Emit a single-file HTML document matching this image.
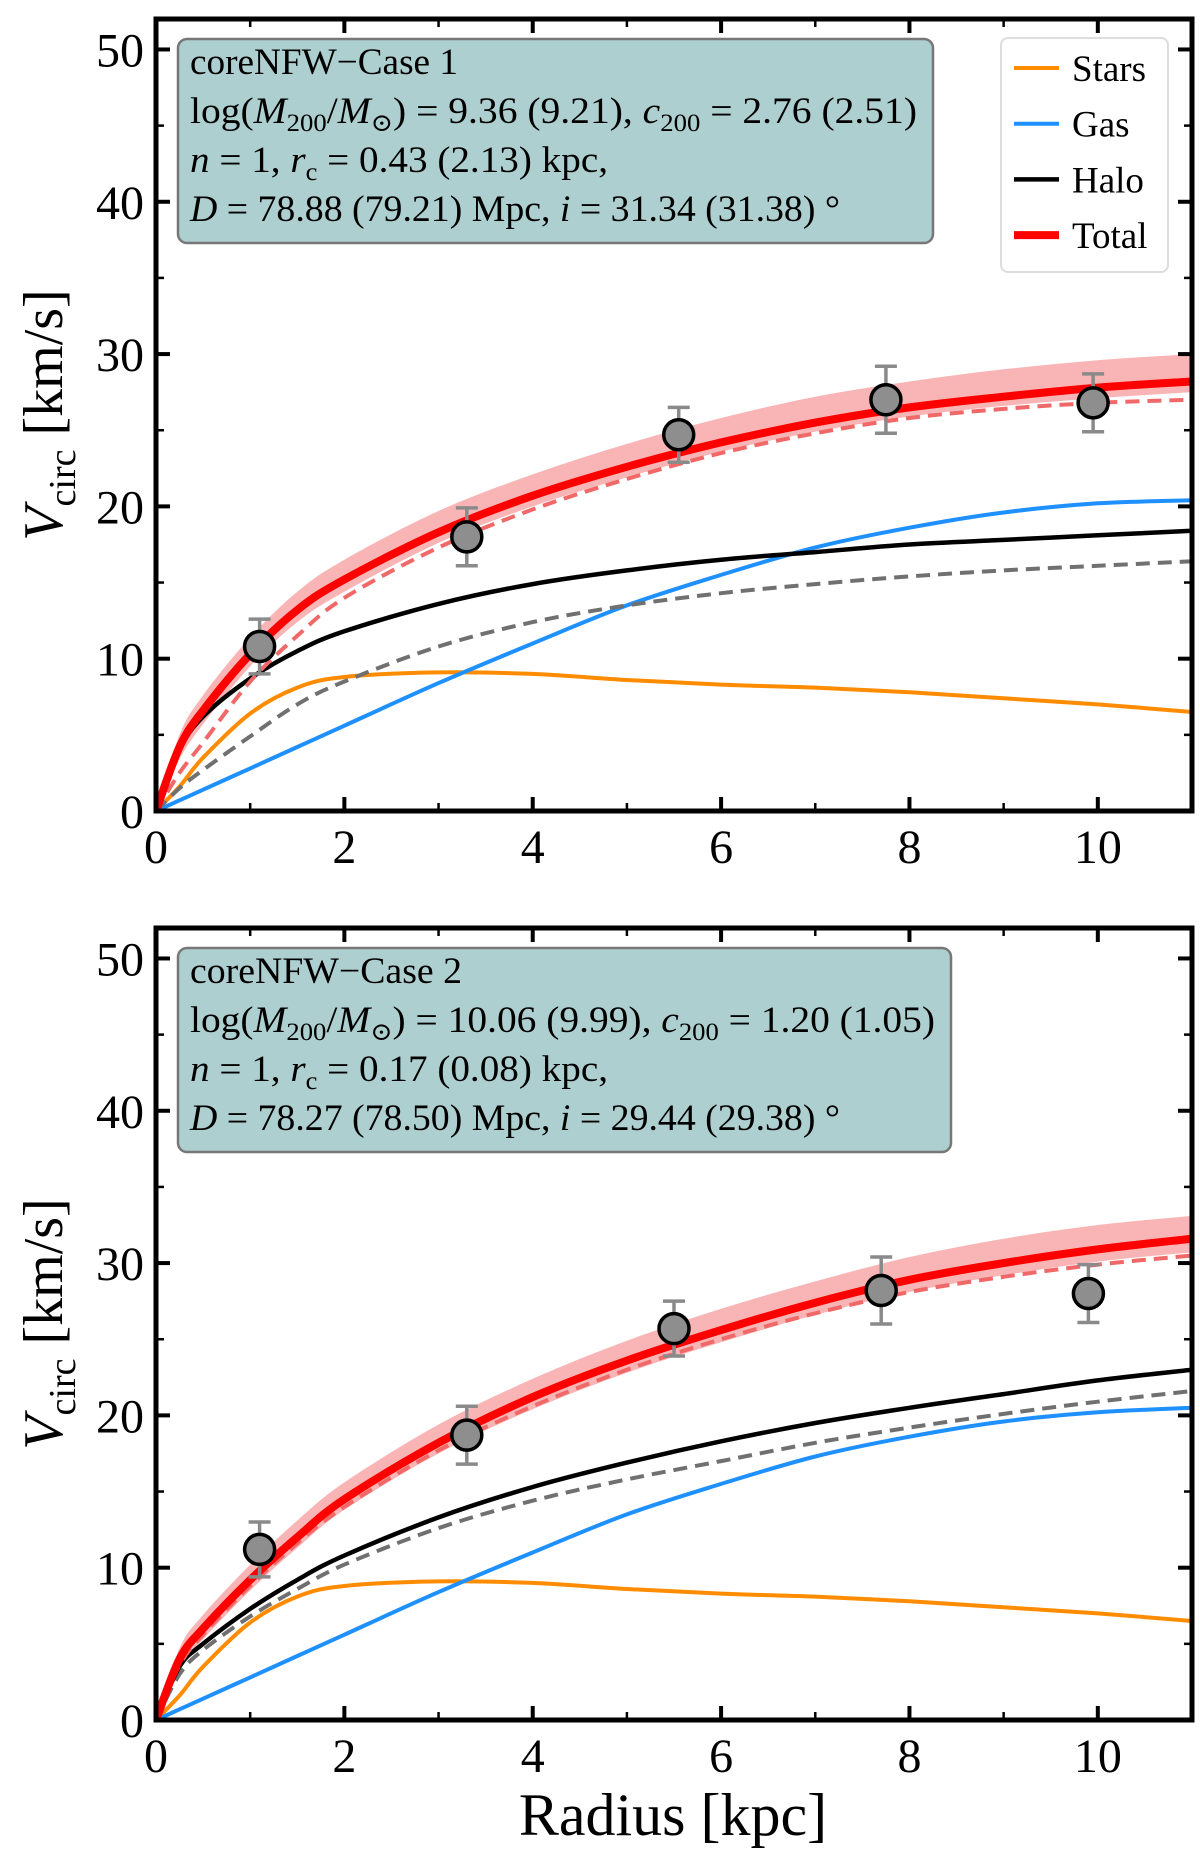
<!DOCTYPE html>
<html><head><meta charset="utf-8">
<style>
html,body{margin:0;padding:0;background:#fff;}
svg{display:block;font-family:"Liberation Serif","DejaVu Serif",serif;}
</style></head>
<body>
<svg id="fig" width="1200" height="1854" viewBox="0 0 1200 1854" xmlns="http://www.w3.org/2000/svg"></svg>
<script>
// ---- data ----
const radiusGrid = [0,0.25,0.5,1,1.5,2,3,4,5,6,7,8,9,10,11];
const xTicks = [0,2,4,6,8,10];
const yTicks = [0,10,20,30,40,50];

const p1Total  = [0,4.2,6.6,10.3,13.2,15.2,18.3,20.7,22.6,24.2,25.5,26.5,27.2,27.8,28.2];
const p1TotalUp= [0,5.0,7.6,11.4,14.4,16.5,19.7,22.1,24.1,25.8,27.2,28.2,29.0,29.6,30.0];
const p1TotalLo= [0,3.4,5.7,9.5,12.4,14.4,17.6,20.0,21.9,23.6,24.9,25.9,26.6,27.1,27.5];
const p1TotalDash=[0,2.5,4.5,8.5,11.5,14.0,17.3,19.8,21.8,23.5,24.8,25.8,26.4,26.8,27.0];
const p1Halo   = [0,4,6.2,8.7,10.5,11.8,13.6,14.9,15.8,16.5,17.0,17.5,17.8,18.1,18.4];
const p1HaloDash=[0,1.5,2.7,4.9,7,8.5,10.8,12.4,13.5,14.3,14.9,15.4,15.8,16.1,16.4];
const p1Stars  = [0,1.6,3.5,6.4,8.1,8.8,9.1,9.0,8.6,8.3,8.1,7.8,7.4,7.0,6.5];
const p1Gas    = [0,0.7,1.4,2.8,4.2,5.6,8.4,11.0,13.5,15.5,17.3,18.6,19.6,20.2,20.4];
const p1ObsR   = [1.1,3.3,5.55,7.75,9.95];
const p1ObsV   = [10.8,18.0,24.7,27.0,26.8];
const p1ObsErr = [1.8,1.9,1.8,2.2,1.9];

const p2Total  = [0,4,6,9.2,12,14.5,18.2,21.2,23.6,25.6,27.4,28.9,30.0,30.9,31.6];
const p2TotalUp= [0,4.7,6.9,10.2,13.1,15.6,19.4,22.4,24.9,27.0,28.8,30.4,31.6,32.5,33.1];
const p2TotalLo= [0,3.4,5.3,8.5,11.3,13.8,17.5,20.4,22.8,24.8,26.6,28.1,29.2,30.1,30.7];
const p2TotalDash=[0,3.6,5.6,8.8,11.6,14.0,17.7,20.6,23.0,25.0,26.7,28.1,29.1,29.9,30.5];
const p2Halo   = [0,3.5,5,7.3,9.2,10.8,13.3,15.3,16.9,18.3,19.5,20.5,21.4,22.3,23.0];
const p2HaloDash=[0,3,4.6,6.8,8.6,10.2,12.6,14.4,15.8,17.0,18.2,19.2,20.1,20.9,21.6];
const p2Stars  = [0,1.6,3.5,6.4,8.1,8.8,9.1,9.0,8.6,8.3,8.1,7.8,7.4,7.0,6.5];
const p2Gas    = [0,0.7,1.4,2.8,4.2,5.6,8.4,11.0,13.5,15.5,17.3,18.6,19.6,20.2,20.5];
const p2ObsR   = [1.1,3.3,5.5,7.7,9.9];
const p2ObsV   = [11.2,18.7,25.7,28.2,28.0];
const p2ObsErr = [1.8,1.9,1.8,2.2,1.9];

const NS="http://www.w3.org/2000/svg";
const svg=document.getElementById('fig');
function mk(tag,attrs,parent){const e=document.createElementNS(NS,tag);for(const k in attrs)e.setAttribute(k,attrs[k]);(parent||svg).appendChild(e);return e;}

function smooth(pts){
  let d='M'+pts[0][0].toFixed(1)+','+pts[0][1].toFixed(1);
  for(let i=0;i<pts.length-1;i++){
    const p0=pts[Math.max(0,i-1)],p1=pts[i],p2=pts[i+1],p3=pts[Math.min(pts.length-1,i+2)];
    const c1x=p1[0]+(p2[0]-p0[0])/6,c1y=p1[1]+(p2[1]-p0[1])/6;
    const c2x=p2[0]-(p3[0]-p1[0])/6,c2y=p2[1]-(p3[1]-p1[1])/6;
    d+=` C${c1x.toFixed(1)},${c1y.toFixed(1)} ${c2x.toFixed(1)},${c2y.toFixed(1)} ${p2[0].toFixed(1)},${p2[1].toFixed(1)}`;
  }
  return d;
}

function panel(cfg){
  const L=156,R=1192,T=cfg.top,B=cfg.bottom;
  const X=v=>L+(v/11)*(R-L);
  const Y=v=>B-(v/52)*(B-T);
  const g=mk('g',{});
  
  
  const clipId='clip'+cfg.name;
  const cp=mk('clipPath',{id:clipId},g);mk('rect',{x:L,y:T,width:R-L,height:B-T},cp);
  const plot=mk('g',{'clip-path':'url(#'+clipId+')'},g);
  const ptsOf=arr=>arr.map((v,i)=>[X(radiusGrid[i]),Y(v)]);
  // band
  const upP=ptsOf(cfg.up),loP=ptsOf(cfg.lo).reverse();
  let d=smooth(upP)+' L'+loP[0][0]+','+loP[0][1]+' '+smooth(loP).slice(1).replace(/^[^C]*/,'');
  const band=mk('path',{d:d+'Z',fill:'#f8a8a8',opacity:0.85},plot);
  
  
  const lines=[
    ['stars-curve',cfg.stars,'#ff8c00',4,null],
    ['gas-curve',cfg.gas,'#1e90ff',4,null],
    ['halo-dashed-curve',cfg.haloDash,'#707070',4,'14,8'],
    ['halo-curve',cfg.halo,'#000',4.5,null],
    ['total-dashed-curve',cfg.totalDash,'#f06868',4,'14,8'],
    ['total-curve',cfg.total,'#ff0000',8,null]];
  for(const [n,arr,c,w,da] of lines){
    const p=mk('path',{d:smooth(ptsOf(arr)),fill:'none',stroke:c,'stroke-width':w,'stroke-linejoin':'round'},plot);
    if(da)p.setAttribute('stroke-dasharray',da);
    
    
  }
  cfg.obsR.forEach((r,i)=>{
    const x=X(r),y1=Y(cfg.obsV[i]-cfg.obsErr[i]),y2=Y(cfg.obsV[i]+cfg.obsErr[i]);
    const eb=mk('path',{d:`M${x},${y1}V${y2}M${x-11},${y1}H${x+11}M${x-11},${y2}H${x+11}`,stroke:'#8a8a8a','stroke-width':3.5,fill:'none'},g);
    
    
    const c=mk('circle',{cx:x,cy:Y(cfg.obsV[i]),r:15,fill:'#8e8e8e',stroke:'#000','stroke-width':3.5},g);
    
    
  });
  // ticks
  const tk=mk('g',{stroke:'#000'},g);
  for(let v=0;v<=11;v++){const maj=v%2===0,len=maj?14:8,w=maj?4:2.5;
    mk('line',{x1:X(v),x2:X(v),y1:B,y2:B-len,'stroke-width':w},tk);
    mk('line',{x1:X(v),x2:X(v),y1:T,y2:T+len,'stroke-width':w},tk);}
  for(let v=0;v<=50;v+=5){const maj=v%10===0,len=maj?14:8,w=maj?4:2.5;
    mk('line',{x1:L,x2:L+len,y1:Y(v),y2:Y(v),'stroke-width':w},tk);
    mk('line',{x1:R,x2:R-len,y1:Y(v),y2:Y(v),'stroke-width':w},tk);}
  const fr=mk('rect',{x:L,y:T,width:R-L,height:B-T,fill:'none',stroke:'#000','stroke-width':5},g);
  
  
  xTicks.forEach(v=>{const t=mk('text',{x:X(v),y:B+52,'font-size':48,'text-anchor':'middle'},g);t.textContent=v;
    
    });
  yTicks.forEach(v=>{const t=mk('text',{x:L-12,y:Y(v)+17,'font-size':48,'text-anchor':'end'},g);t.textContent=v;
    
    });
  const yt=mk('text',{transform:`translate(62,${(T+B)/2}) rotate(-90)`,'font-size':56,'text-anchor':'middle'},g);
  yt.innerHTML='<tspan font-style="italic">V</tspan><tspan font-size="38" dy="13">circ</tspan><tspan dy="-13">  [km/s]</tspan>';
  
  
  // info box
  const ib=mk('g',{},g);
  
  
  mk('rect',{x:178,y:T+20,width:cfg.boxW,height:204,rx:9,fill:'#aecfcf',stroke:'#777','stroke-width':2.5},ib);
  cfg.lines.forEach((h,i)=>{const t=mk('text',{x:190,y:T+55+i*49,'font-size':37},ib);t.innerHTML=h;
    t.setAttribute('textLength',cfg.lens[i]);t.setAttribute('lengthAdjust','spacingAndGlyphs');});
}

panel({name:'panel-case1',top:19,bottom:811,total:p1Total,up:p1TotalUp,lo:p1TotalLo,totalDash:p1TotalDash,
  halo:p1Halo,haloDash:p1HaloDash,stars:p1Stars,gas:p1Gas,obsR:p1ObsR,obsV:p1ObsV,obsErr:p1ObsErr,boxW:755,
  lens:[268,727,418,650],
  lines:['coreNFW−Case 1',
  'log(<tspan font-style="italic">M</tspan><tspan font-size="25" dy="8">200</tspan><tspan dy="-8">/</tspan><tspan font-style="italic">M</tspan><tspan font-size="25" dy="8">⊙</tspan><tspan dy="-8">) = 9.36 (9.21), </tspan><tspan font-style="italic">c</tspan><tspan font-size="25" dy="8">200</tspan><tspan dy="-8"> = 2.76 (2.51)</tspan>',
  '<tspan font-style="italic">n</tspan> = 1, <tspan font-style="italic">r</tspan><tspan font-size="25" dy="8">c</tspan><tspan dy="-8"> = 0.43 (2.13) kpc,</tspan>',
  '<tspan font-style="italic">D</tspan> = 78.88 (79.21) Mpc, <tspan font-style="italic">i</tspan> = 31.34 (31.38) °']});

panel({name:'panel-case2',top:928,bottom:1720,total:p2Total,up:p2TotalUp,lo:p2TotalLo,totalDash:p2TotalDash,
  halo:p2Halo,haloDash:p2HaloDash,stars:p2Stars,gas:p2Gas,obsR:p2ObsR,obsV:p2ObsV,obsErr:p2ObsErr,boxW:773,
  lens:[272,745,418,650],
  lines:['coreNFW−Case 2',
  'log(<tspan font-style="italic">M</tspan><tspan font-size="25" dy="8">200</tspan><tspan dy="-8">/</tspan><tspan font-style="italic">M</tspan><tspan font-size="25" dy="8">⊙</tspan><tspan dy="-8">) = 10.06 (9.99), </tspan><tspan font-style="italic">c</tspan><tspan font-size="25" dy="8">200</tspan><tspan dy="-8"> = 1.20 (1.05)</tspan>',
  '<tspan font-style="italic">n</tspan> = 1, <tspan font-style="italic">r</tspan><tspan font-size="25" dy="8">c</tspan><tspan dy="-8"> = 0.17 (0.08) kpc,</tspan>',
  '<tspan font-style="italic">D</tspan> = 78.27 (78.50) Mpc, <tspan font-style="italic">i</tspan> = 29.44 (29.38) °']});

// legend
const lg=mk('g',{});


mk('rect',{x:1001,y:38,width:167,height:234,rx:7,fill:'#fff',stroke:'#ddd','stroke-width':2},lg);
[['Stars','#ff8c00',4],['Gas','#1e90ff',4],['Halo','#000',4.5],['Total','#ff0000',8]].forEach((e,i)=>{
  const y=68+i*55.7;
  const it=mk('g',{},lg);
  
  
  mk('line',{x1:1014,x2:1059,y1:y,y2:y,stroke:e[1],'stroke-width':e[2]},it);
  const t=mk('text',{x:1072,y:y+13,'font-size':37},it);t.textContent=e[0];
});
const xt=mk('text',{x:673,y:1835,'font-size':60,'text-anchor':'middle'});
xt.textContent='Radius [kpc]';


</script>
</body></html>
